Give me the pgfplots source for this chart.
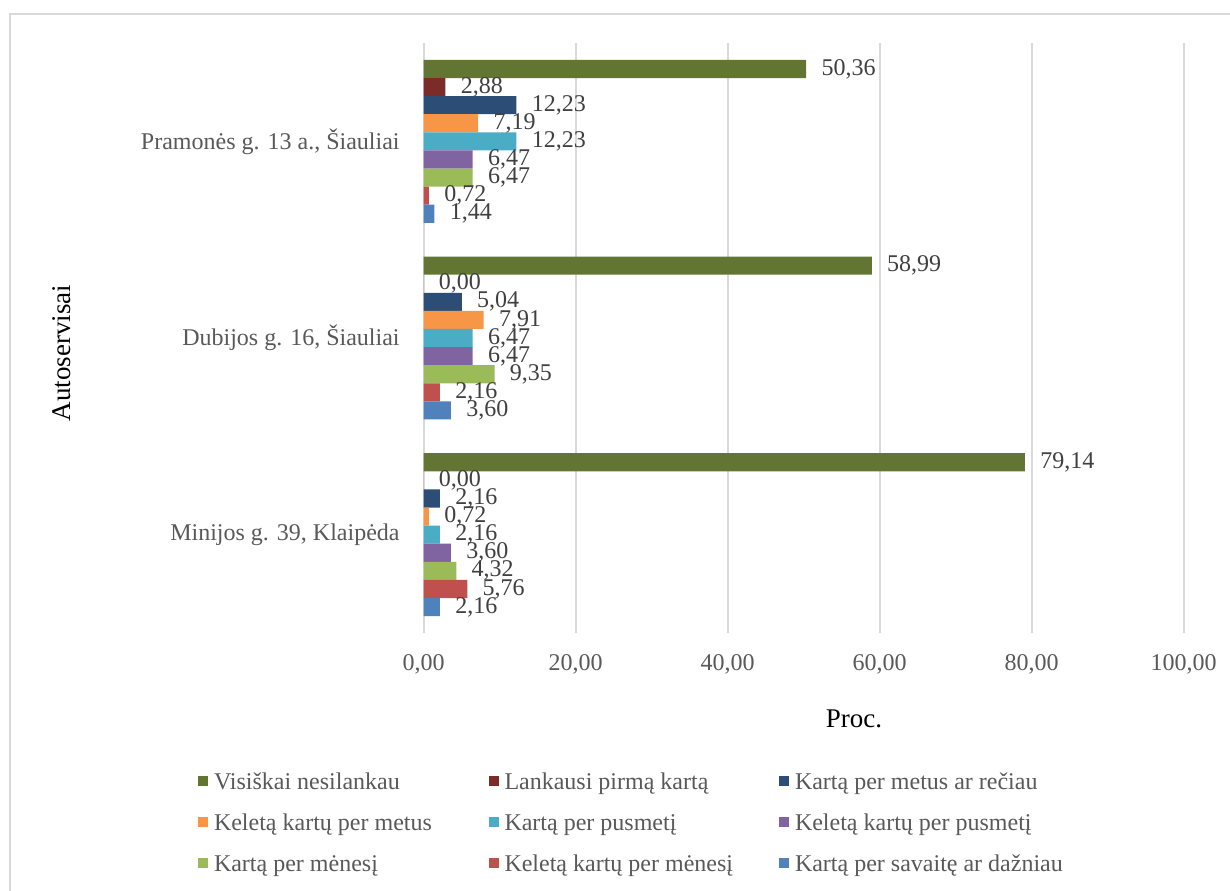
\documentclass[border=0pt]{standalone}
\usepackage{pgfplots}
\usepackage{pgfplotstable}
\usepackage{fontspec}
\setmainfont{Liberation Serif}
\pgfplotsset{compat=1.18}
\definecolor{c1}{HTML}{637533}
\definecolor{c2}{HTML}{7B2C29}
\definecolor{c3}{HTML}{2C4D75}
\definecolor{c4}{HTML}{F79646}
\definecolor{c5}{HTML}{4BACC6}
\definecolor{c6}{HTML}{8064A2}
\definecolor{c7}{HTML}{9BBB59}
\definecolor{c8}{HTML}{C0504D}
\definecolor{c9}{HTML}{4F81BD}
\definecolor{gridc}{HTML}{D9D9D9}
\definecolor{lblc}{HTML}{404040}
\definecolor{tickc}{HTML}{595959}
\pgfplotstableread{
y v1 v2 v3 v4 v5 v6 v7 v8 v9
0 79.14 0.00 2.16 0.72 2.16 3.60 4.32 5.76 2.16
1 58.99 0.00 5.04 7.91 6.47 6.47 9.35 2.16 3.60
2 50.36 2.88 12.23 7.19 12.23 6.47 6.47 0.72 1.44
}\datatab
\newcommand{\lent}[1]{\makebox[120pt][l]{\rule[-2pt]{0pt}{12pt}#1}}
\begin{document}
\begin{tikzpicture}
\useasboundingbox (0,0) rectangle (615pt,-445pt);
\draw[gridc, line width=0.8pt] (5pt,-7pt) rectangle (700pt,-600pt);
\begin{axis}[
  at={(211.75pt,-316.5pt)}, anchor=south west,
  width=380pt, height=295pt, scale only axis,
  xmin=0, xmax=100, ymin=-0.5, ymax=2.5,
  xbar, bar width=9.05pt,
  clip=false,
  axis line style={draw=none},
  tick style={draw=none},
  major tick length=0pt,
  xmajorgrids, major grid style={draw=gridc, line width=1pt},
  xtick={0,20,40,60,80,100},
  ytick={0,1,2},
  yticklabels={{Minijos g. 39, Klaipėda},{Dubijos g. 16, Šiauliai},{Pramonės g. 13 a., Šiauliai}},
  /pgf/number format/assume math mode=true,
  xticklabel style={/pgf/number format/.cd, fixed, fixed zerofill, precision=2, use comma, assume math mode=true, /tikz/.cd, anchor=base, inner sep=0pt, yshift=-18.5pt, font=\fontsize{12}{14}\selectfont, text=tickc},
  yticklabel style={anchor=east, inner sep=0pt, xshift=-11.75pt, font=\fontsize{12}{14}\selectfont, text=tickc},
  xlabel={Proc.},
  xlabel style={at={(axis description cs:0.5664,-0.1458)}, anchor=center, font=\fontsize{13.5}{16}\selectfont, text=black},
  ylabel={Autoservisai},
  ylabel style={at={(axis description cs:-0.4757,0.4746)}, anchor=center, rotate=0, font=\fontsize{13.5}{16}\selectfont, text=black},
  point meta=x,
  nodes near coords={\pgfmathprintnumber[fixed,fixed zerofill,precision=2,use comma,assume math mode=true]{\pgfplotspointmeta}},
  every node near coord/.append style={anchor=west, inner sep=0pt, xshift=7.5pt, font=\fontsize{12}{14}\selectfont, text=lblc},
  legend columns=3,
  legend image code/.code={\fill[#1] (0pt,-2.5pt) rectangle (5pt,2.5pt);},
  legend style={draw=none, fill=none, at={(axis description cs:-0.2967,-0.3203)}, anchor=west, inner sep=0pt, outer sep=0pt,
    font=\fontsize{12}{14}\selectfont, text=tickc, row sep=9pt,
    nodes={inner sep=0pt},
    /tikz/every odd column/.append style={column sep=3pt},
    /tikz/every even column/.append style={column sep=17.25pt}},
  legend cell align=left,
]
\addplot[fill=c1, draw=none, bar shift=36.2pt] table[x=v1,y=y]{\datatab};
\addlegendentry{\lent{Visiškai nesilankau}}
\addplot[fill=c2, draw=none, bar shift=27.15pt] table[x=v2,y=y]{\datatab};
\addlegendentry{\lent{Lankausi pirmą kartą}}
\addplot[fill=c3, draw=none, bar shift=18.1pt] table[x=v3,y=y]{\datatab};
\addlegendentry{\lent{Kartą per metus ar rečiau}}
\addplot[fill=c4, draw=none, bar shift=9.05pt] table[x=v4,y=y]{\datatab};
\addlegendentry{\lent{Keletą kartų per metus}}
\addplot[fill=c5, draw=none, bar shift=0pt] table[x=v5,y=y]{\datatab};
\addlegendentry{\lent{Kartą per pusmetį}}
\addplot[fill=c6, draw=none, bar shift=-9.05pt] table[x=v6,y=y]{\datatab};
\addlegendentry{\lent{Keletą kartų per pusmetį}}
\addplot[fill=c7, draw=none, bar shift=-18.1pt] table[x=v7,y=y]{\datatab};
\addlegendentry{\lent{Kartą per mėnesį}}
\addplot[fill=c8, draw=none, bar shift=-27.15pt] table[x=v8,y=y]{\datatab};
\addlegendentry{\lent{Keletą kartų per mėnesį}}
\addplot[fill=c9, draw=none, bar shift=-36.2pt] table[x=v9,y=y]{\datatab};
\addlegendentry{\lent{Kartą per savaitę ar dažniau}}
\end{axis}
\end{tikzpicture}
\end{document}
